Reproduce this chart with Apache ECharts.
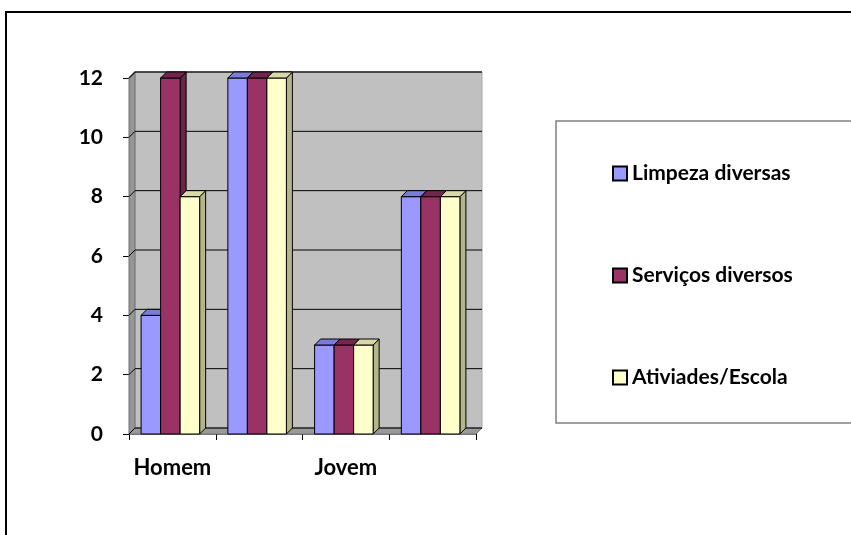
<!DOCTYPE html>
<html>
<head>
<meta charset="utf-8">
<script src="https://cdn.jsdelivr.net/npm/echarts@6/dist/echarts.min.js"></script>
<style>
  html, body { margin: 0; padding: 0; background: #ffffff; }
  #chart { width: 851px; height: 535px; }
</style>
</head>
<body>
<div id="chart"></div>
<script>
// Categories along the x axis (two unlabelled groups)
var categories = ['Homem', '', 'Jovem', ''];

// Series values
var limpeza = [4, 12, 3, 8];
var servicos = [12, 12, 3, 8];
var atividades = [8, 12, 3, 8];

// Value axis ticks
var yTicks = [0, 2, 4, 6, 8, 10, 12];

var seriesNames = ['Limpeza diversas', 'Serviços diversos', 'Ativiades/Escola'];
var seriesValues = [limpeza, servicos, atividades];

// Face colours for each series: front, top, side
var faces = [
  { front: '#9999FF', top: '#7B7BD9', side: '#6E6EB8' },
  { front: '#993366', top: '#73264C', side: '#6B2447' },
  { front: '#FFFFCC', top: '#D9D9A8', side: '#B5B58C' }
];

var DEPTH = 6;          // 3D offset in pixels (right and up)
var FONT = 'Lato, "Open Sans", sans-serif';

// Back wall, left side wall, floor and gridlines
function renderWall(params, api) {
  var bw = api.size([1, 0])[0];
  var c0 = api.coord([0, 0]);
  var x0 = c0[0] - bw / 2;
  var x1 = x0 + bw * categories.length;
  var yBot = c0[1];
  var yTop = api.coord([0, yTicks[yTicks.length - 1]])[1];
  var d = DEPTH;
  var children = [];
  children.push({
    type: 'rect',
    shape: { x: x0 + d, y: yTop - d, width: x1 - x0, height: yBot - yTop },
    style: { fill: '#C0C0C0', stroke: '#A8A8A8', lineWidth: 1 }
  });
  children.push({
    type: 'polygon',
    shape: { points: [[x0, yTop], [x0 + d, yTop - d], [x0 + d, yBot - d], [x0, yBot]] },
    style: { fill: '#969696', stroke: '#707070', lineWidth: 1 }
  });
  children.push({
    type: 'polygon',
    shape: { points: [[x0, yBot], [x0 + d, yBot - d], [x1 + d, yBot - d], [x1, yBot]] },
    style: { fill: '#9A9A9A', stroke: '#707070', lineWidth: 1 }
  });
  for (var i = 0; i < yTicks.length; i++) {
    var y = api.coord([0, yTicks[i]])[1];
    children.push({
      type: 'polyline',
      shape: { points: [[x0, y], [x0 + d, y - d], [x1 + d, y - d]] },
      style: { stroke: i === yTicks.length - 1 ? '#202020' : '#000000', lineWidth: i === yTicks.length - 1 ? 1.5 : 1, fill: null }
    });
  }
  return { type: 'group', children: children };
}

// One 3D bar: front face, top face and right side face
function makeBarRenderer(sIdx) {
  return function (params, api) {
    var cat = api.value(0);
    var val = api.value(1);
    var base = api.coord([cat, 0]);
    var top = api.coord([cat, val]);
    var bw = api.size([1, 0])[0];
    var barW = bw * 0.225;
    var d = DEPTH;
    var gx = base[0] - 2 - 1.5 * barW + sIdx * barW;
    var ty = top[1], by = base[1];
    var f = faces[sIdx];
    var st = { stroke: '#000000', lineWidth: 1 };
    return {
      type: 'group',
      children: [
        {
          type: 'polygon',
          shape: { points: [[gx + barW, ty], [gx + barW + d, ty - d], [gx + barW + d, by - d], [gx + barW, by]] },
          style: { fill: f.side, stroke: st.stroke, lineWidth: st.lineWidth }
        },
        {
          type: 'rect',
          shape: { x: gx, y: ty, width: barW, height: by - ty },
          style: { fill: f.front, stroke: st.stroke, lineWidth: st.lineWidth }
        },
        {
          type: 'polygon',
          shape: { points: [[gx, ty], [gx + d, ty - d], [gx + barW + d, ty - d], [gx + barW, ty]] },
          style: { fill: f.top, stroke: st.stroke, lineWidth: st.lineWidth }
        }
      ]
    };
  };
}

var series = [{
  type: 'custom',
  name: '__wall',
  renderItem: renderWall,
  data: [[0, 0]],
  silent: true,
  z: 1
}];
for (var s = 0; s < seriesNames.length; s++) {
  series.push({
    type: 'custom',
    name: seriesNames[s],
    renderItem: makeBarRenderer(s),
    itemStyle: { color: faces[s].front },
    data: seriesValues[s].map(function (v, i) { return [i, v]; }),
    z: 2 + s
  });
}

var chart = echarts.init(document.getElementById('chart'), null, { renderer: 'canvas' });
chart.setOption({
  animation: false,
  backgroundColor: '#ffffff',
  grid: { left: 129, right: 375, top: 78, bottom: 101, containLabel: false },
  xAxis: {
    type: 'category',
    data: categories,
    boundaryGap: true,
    axisLine: { show: true, lineStyle: { color: '#808080', width: 1 } },
    axisTick: { show: true, length: 6, alignWithLabel: false, lineStyle: { color: '#000' } },
    axisLabel: { margin: 23, color: '#000', fontFamily: FONT, fontWeight: 'bold', fontSize: 22, interval: 0 },
    splitLine: { show: false }
  },
  yAxis: {
    type: 'value',
    min: 0,
    max: 12,
    interval: 2,
    axisLine: { show: true, lineStyle: { color: '#707070', width: 1 } },
    axisTick: { show: true, length: 6, lineStyle: { color: '#000' } },
    axisLabel: { margin: 26, color: '#000', fontFamily: FONT, fontWeight: 'bold', fontSize: 21 },
    splitLine: { show: false }
  },
  legend: {
    data: seriesNames.map(function (n) { return { name: n, icon: 'rect' }; }),
    orient: 'vertical',
    left: 612,
    top: 163,
    padding: 0,
    itemGap: 81,
    itemWidth: 14,
    itemHeight: 14,
    itemStyle: { borderColor: '#000', borderWidth: 2 },
    textStyle: { color: '#000', fontFamily: FONT, fontWeight: 'bold', fontSize: 21, padding: [0, 0, 0, 0] },
    selectedMode: false,
    z: 10
  },
  graphic: [
    {
      type: 'rect',
      z: 0,
      shape: { x: 6, y: 12, width: 900, height: 600 },
      style: { fill: null, stroke: '#000', lineWidth: 2 }
    },
    {
      type: 'rect',
      z: 1,
      shape: { x: 556, y: 121, width: 320, height: 302 },
      style: { fill: '#fff', stroke: '#808080', lineWidth: 1.5 }
    }
  ],
  series: series
});
</script>
</body>
</html>
